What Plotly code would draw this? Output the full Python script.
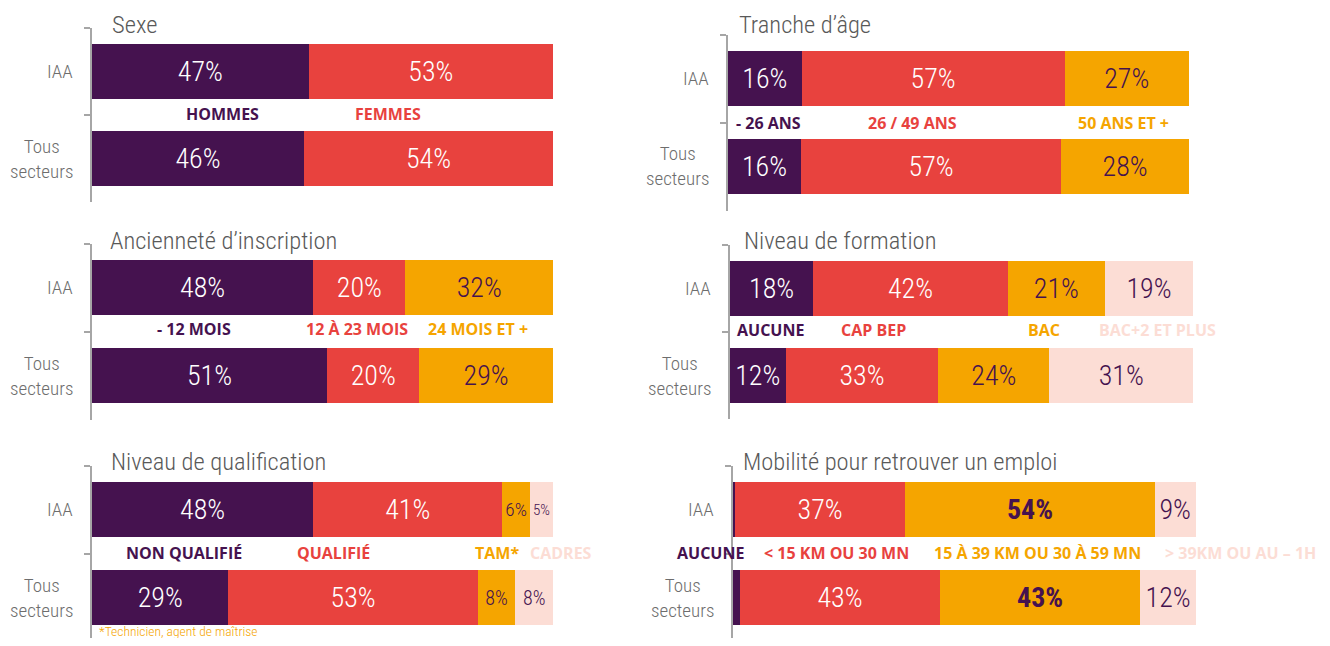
import plotly.graph_objects as go

# ---------------- data ----------------
ROWS = ["IAA", "Tous secteurs"]

sexe_cats = ["HOMMES", "FEMMES"]
sexe_iaa = [47, 53]
sexe_tous = [46, 54]

age_cats = ["- 26 ANS", "26 / 49 ANS", "50 ANS ET +"]
age_iaa = [16, 57, 27]
age_tous = [16, 57, 28]

anc_cats = ["- 12 MOIS", "12 À 23 MOIS", "24 MOIS ET +"]
anc_iaa = [48, 20, 32]
anc_tous = [51, 20, 29]

form_cats = ["AUCUNE", "CAP BEP", "BAC", "BAC+2 ET PLUS"]
form_iaa = [18, 42, 21, 19]
form_tous = [12, 33, 24, 31]

qual_cats = ["NON QUALIFIÉ", "QUALIFIÉ", "TAM*", "CADRES"]
qual_iaa = [48, 41, 6, 5]
qual_tous = [29, 53, 8, 8]

mob_cats = ["AUCUNE", "< 15 KM OU 30 MN", "15 À 39 KM OU 30 À 59 MN", "> 39KM OU AU – 1H"]
mob_iaa = [0.4, 37, 54, 9]
mob_tous = [1.5, 43, 43, 12]

footnote = "*Technicien, agent de maîtrise"

# ---------------- style ----------------
PURPLE = "#45124F"
RED = "#E8423E"
ORANGE = "#F5A500"
PINK = "#FCDDD5"
TEXT_ON = {PURPLE: "white", RED: "white", ORANGE: PURPLE, PINK: PURPLE}
COLS4 = [PURPLE, RED, ORANGE, PINK]

NUM_FONT = "Liberation Sans Narrow, Roboto Condensed, DejaVu Sans Condensed, Roboto, sans-serif"
LBL_FONT = "Open Sans, Lato, sans-serif"

W, H, OFF = 1314, 630, 8


def fx(px):
    return (px - OFF) / W


def fy(py):
    return min(1.0, max(0.0, 1 - (py - OFF) / H))


panels = [
    dict(title="Sexe", cats=sexe_cats, iaa=sexe_iaa, tous=sexe_tous,
         x0=92, x1=553, yc=(71.5, 158.5), tpos=(110, 24), ly=114, lx=[222, 388]),
    dict(title="Tranche d’âge", cats=age_cats, iaa=age_iaa, tous=age_tous,
         x0=728, x1=1189, yc=(78.5, 166.5), tpos=(737, 24), ly=123, lx=[768, 912, 1123]),
    dict(title="Ancienneté d’inscription", cats=anc_cats, iaa=anc_iaa, tous=anc_tous,
         x0=92, x1=553, yc=(287.5, 375.5), tpos=(108, 240), ly=329, lx=[194, 357, 478]),
    dict(title="Niveau de formation", cats=form_cats, iaa=form_iaa, tous=form_tous,
         x0=730, x1=1193, yc=(288.5, 375.5), tpos=(742, 240), ly=330, lx=[770, 873, 1044, 1157]),
    dict(title="Niveau de qualification", cats=qual_cats, iaa=qual_iaa, tous=qual_tous,
         x0=92, x1=553, yc=(509.5, 597.5), tpos=(109, 461), ly=553, lx=[184, 333, 497, 561],
         small=[2, 3]),
    dict(title="Mobilité pour retrouver un emploi", cats=mob_cats, iaa=mob_iaa, tous=mob_tous,
         x0=733, x1=1196, yc=(509.5, 597.5), tpos=(741, 461), ly=553, lx=[710, 836, 1037, 1240],
         bold=[2]),
]

fig = go.Figure()
annotations = []
layout_axes = {}

for i, p in enumerate(panels):
    n = i + 1
    xa = "x" if n == 1 else f"x{n}"
    ya = "y" if n == 1 else f"y{n}"
    unit = p["yc"][1] - p["yc"][0]
    top = p["yc"][0] - unit / 2
    bot = min(p["yc"][1] + unit / 2, OFF + H)
    v_bot = (bot - p["yc"][0]) / unit
    layout_axes["xaxis" if n == 1 else f"xaxis{n}"] = dict(
        domain=[fx(p["x0"]), fx(p["x1"])], range=[0, 100], visible=False,
        anchor=ya, fixedrange=True)
    layout_axes["yaxis" if n == 1 else f"yaxis{n}"] = dict(
        domain=[fy(bot), fy(top)], anchor=xa, type="category",
        categoryorder="array", categoryarray=ROWS, range=[v_bot, -0.5],
        showticklabels=False, ticks="outside", tickson="boundaries", ticklen=6,
        tickcolor="#a6a6a6", tickwidth=1.5, showline=True, linecolor="#a6a6a6",
        linewidth=1.5, showgrid=False, zeroline=False, fixedrange=True)

    ncat = len(p["cats"])
    colors = COLS4[:ncat]
    for k, cat in enumerate(p["cats"]):
        vals = [p["iaa"][k], p["tous"][k]]
        txt = [f"{v:g}%" if v >= 2 else "" for v in vals]
        bold = k in p.get("bold", [])
        size = 20 if k in p.get("small", []) else 28
        fig.add_trace(go.Bar(
            y=ROWS, x=vals, orientation="h", name=cat,
            marker=dict(color=colors[k], line=dict(width=0)),
            text=txt,
            texttemplate="<b>%{text}</b>" if bold else "%{text}",
            textposition="inside", insidetextanchor="middle", textangle=0,
            textfont=dict(family=NUM_FONT, size=size, color=TEXT_ON[colors[k]],
                          weight=300),
            xaxis=xa, yaxis=ya, hoverinfo="skip", showlegend=False,
        ))
        annotations.append(dict(
            text=f"<b>{cat}</b>", x=fx(p["lx"][k]), y=fy(p["ly"]),
            xref="paper", yref="paper", xanchor="center", yanchor="middle",
            showarrow=False, font=dict(family=LBL_FONT, size=16, color=colors[k])))

    # row labels
    for r, lab in enumerate(["IAA", "Tous<br>secteurs"]):
        annotations.append(dict(
            text=lab, x=0, xref=f"{xa} domain", xshift=-17, xanchor="right",
            y=ROWS[r], yref=ya, yanchor="middle", align="center", showarrow=False,
            font=dict(family=NUM_FONT, size=19, color="#6d6d6d", weight=300)))

    # title
    annotations.append(dict(
        text=p["title"], x=fx(p["tpos"][0]), y=fy(p["tpos"][1]), xref="paper",
        yref="paper", xanchor="left", yanchor="middle", showarrow=False,
        font=dict(family=NUM_FONT, size=24.5, color="#595959", weight=300)))

annotations.append(dict(
    text=footnote, x=fx(97), y=fy(631), xref="paper", yref="paper",
    xanchor="left", yanchor="middle", showarrow=False,
    font=dict(family=NUM_FONT, size=13.5, color=ORANGE, weight=300)))

fig.update_layout(
    width=W, height=H, margin=dict(l=0, r=0, t=0, b=0),
    paper_bgcolor="white", plot_bgcolor="white",
    barmode="stack", barnorm="percent", bargap=0.375,
    annotations=annotations, showlegend=False,
    **layout_axes,
)

fig.write_html("out.html", config={"displayModeBar": False})
